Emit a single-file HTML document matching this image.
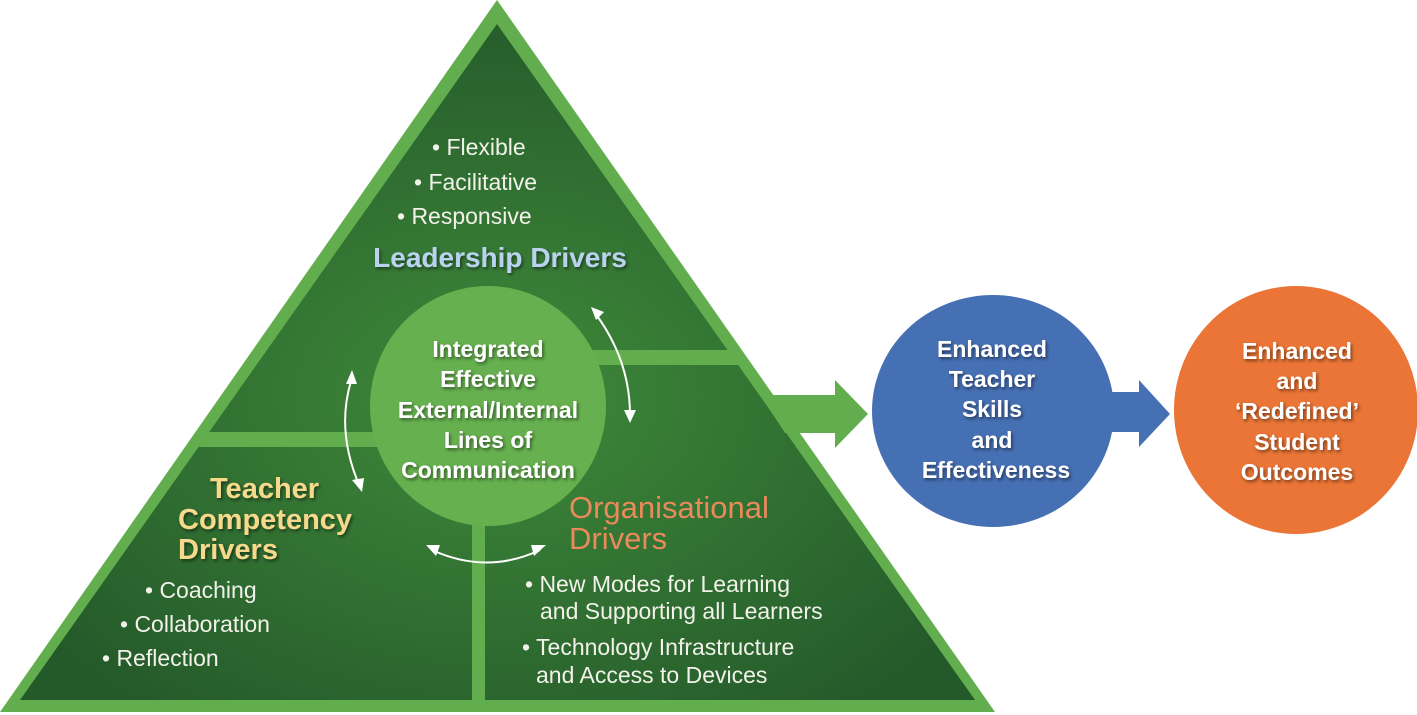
<!DOCTYPE html>
<html><head><meta charset="utf-8"><style>
html,body{margin:0;padding:0;background:#fff;}
svg{display:block;}
text{font-family:"Liberation Sans",sans-serif;}
</style></head><body>
<svg width="1417" height="715" viewBox="0 0 1417 715" xmlns="http://www.w3.org/2000/svg">
<defs>
<radialGradient id="dg" cx="50%" cy="55%" r="60%">
<stop offset="0" stop-color="#3f8a3a"/><stop offset="1" stop-color="#24592a"/>
</radialGradient>
<clipPath id="inner"><polygon points="497,24 975,700 20,700"/></clipPath>
<filter id="sh"><feDropShadow dx="1.5" dy="2" stdDeviation="1.5" flood-color="#000" flood-opacity="0.5"/></filter>
</defs>
<polygon points="497,0 995,712 0,712" fill="#62ae4e"/>
<polygon points="497,24 975,700 20,700" fill="url(#dg)"/>
<g clip-path="url(#inner)">
<rect x="100" y="432" width="290" height="15" fill="#62ae4e"/>
<rect x="580" y="350" width="300" height="15" fill="#62ae4e"/>
<rect x="472" y="520" width="13" height="185" fill="#62ae4e"/>
</g>
<ellipse cx="488" cy="406" rx="118" ry="120" fill="#66b04f"/>
<polygon points="760,395 835,395 835,380 868,414 835,448 835,433 785,433" fill="#62ae4e"/>
<ellipse cx="993" cy="411" rx="121" ry="116" fill="#4670b4"/>
<polygon points="1110,392 1139,392 1139,380 1170,414 1139,447 1139,432 1110,432" fill="#4670b4"/>
<ellipse cx="1296" cy="410" rx="122" ry="124" fill="#ea7536"/>
<g fill="none" stroke="#fff" stroke-width="2">
<path d="M352,378 Q335,430 360,487"/>
<path d="M595,313 Q630,360 630,415"/>
<path d="M432,550 Q487,575 540,550"/>
</g>
<g fill="#fff">
<polygon points="352,370 346,384 357,384"/>
<polygon points="362,492 352,480 364,478"/>
<polygon points="591,307 604,312 596,320"/>
<polygon points="630,423 624,410 636,410"/>
<polygon points="426,545 440,545 436,556"/>
<polygon points="546,545 534,556 531,545"/>
</g>
<g fill="#f2f2ea" font-size="23">
<text x="432" y="155">• Flexible</text>
<text x="414" y="190">• Facilitative</text>
<text x="397" y="224">• Responsive</text>
</g>
<text x="500" y="267" text-anchor="middle" font-size="28" font-weight="bold" fill="#b9d3ee" filter="url(#sh)">Leadership Drivers</text>
<g fill="#fff" font-size="23" font-weight="bold" text-anchor="middle" filter="url(#sh)">
<text x="488" y="357">Integrated</text>
<text x="488" y="387">Effective</text>
<text x="488" y="418">External/Internal</text>
<text x="488" y="448">Lines of</text>
<text x="488" y="478">Communication</text>
</g>
<g fill="#f6d98a" font-size="29" font-weight="bold" filter="url(#sh)">
<text x="210" y="498">Teacher</text>
<text x="178" y="529">Competency</text>
<text x="178" y="559">Drivers</text>
</g>
<g fill="#f2f2ea" font-size="23">
<text x="145" y="598">• Coaching</text>
<text x="120" y="632">• Collaboration</text>
<text x="102" y="666">• Reflection</text>
</g>
<g fill="#ea8a5a" font-size="31">
<text x="569" y="518">Organisational</text>
<text x="569" y="549">Drivers</text>
</g>
<g fill="#f2f2ea" font-size="23">
<text x="525" y="592">• New Modes for Learning</text>
<text x="540" y="619">and Supporting all Learners</text>
<text x="522" y="655">• Technology Infrastructure</text>
<text x="536" y="683">and Access to Devices</text>
</g>
<g fill="#fff" font-size="23" font-weight="bold" text-anchor="middle" filter="url(#sh)">
<text x="992" y="357">Enhanced</text>
<text x="992" y="387">Teacher</text>
<text x="992" y="417">Skills</text>
<text x="992" y="448">and</text>
<text x="996" y="478">Effectiveness</text>
</g>
<g fill="#fff" font-size="23" font-weight="bold" text-anchor="middle" filter="url(#sh)">
<text x="1297" y="359">Enhanced</text>
<text x="1297" y="389">and</text>
<text x="1297" y="419">‘Redefined’</text>
<text x="1297" y="450">Student</text>
<text x="1297" y="480">Outcomes</text>
</g>
</svg>
</body></html>
